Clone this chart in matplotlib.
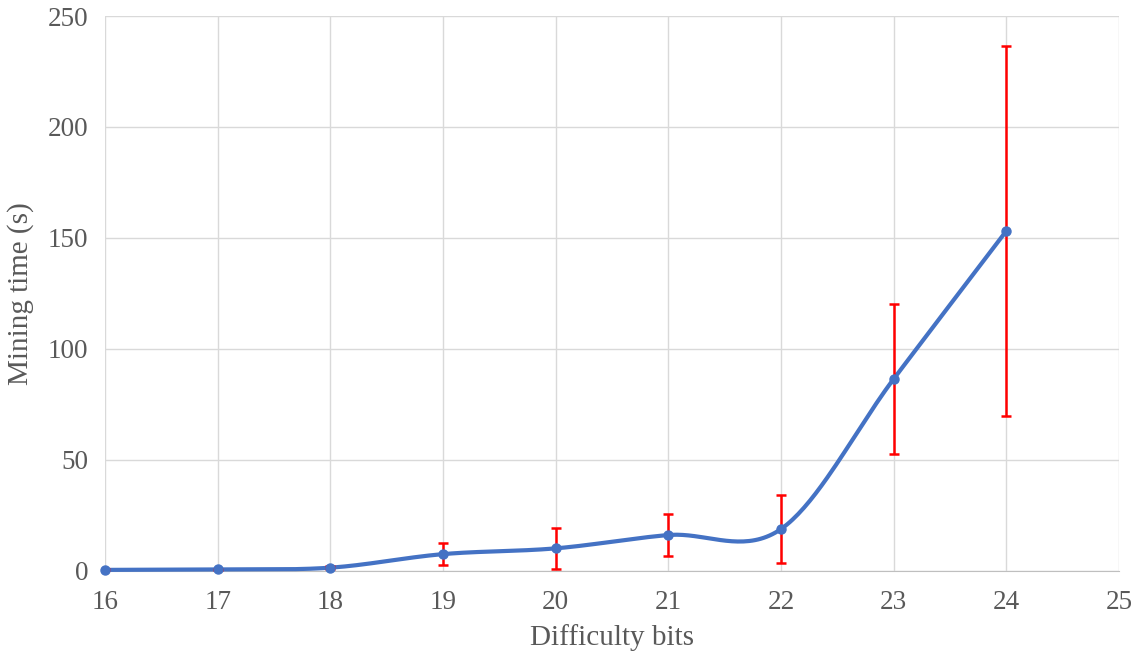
import numpy as np
import matplotlib.pyplot as plt

plt.rcParams['font.family'] = ['Liberation Serif', 'DejaVu Serif']

# Dados
bits = [16, 17, 18, 19, 20, 21, 22, 23, 24]
tempo_medio = [0.5, 0.7, 1.5, 7.6, 10.2, 16.2, 18.9, 86.5, 153.2]
desvio = [0.3, 0.4, 0.8, 5.0, 9.3, 9.5, 15.3, 33.8, 83.3]


def suavizar(x, y, passos=40):
    # Curva suavizada estilo Excel (Catmull-Rom / Bezier)
    x = np.asarray(x, float)
    y = np.asarray(y, float)
    xs, ys = [], []
    n = len(x)
    for i in range(n - 1):
        p0 = (x[max(i - 1, 0)], y[max(i - 1, 0)])
        p1 = (x[i], y[i])
        p2 = (x[i + 1], y[i + 1])
        p3 = (x[min(i + 2, n - 1)], y[min(i + 2, n - 1)])
        c1 = (p1[0] + (p2[0] - p0[0]) / 6, p1[1] + (p2[1] - p0[1]) / 6)
        c2 = (p2[0] - (p3[0] - p1[0]) / 6, p2[1] - (p3[1] - p1[1]) / 6)
        t = np.linspace(0, 1, passos)
        for k in range(2):
            pts = [p1[k], c1[k], c2[k], p2[k]]
            v = ((1 - t) ** 3 * pts[0] + 3 * (1 - t) ** 2 * t * pts[1]
                 + 3 * (1 - t) * t ** 2 * pts[2] + t ** 3 * pts[3])
            (xs if k == 0 else ys).append(v)
    return np.concatenate(xs), np.concatenate(ys)


fig = plt.figure(figsize=(11.41, 6.55), dpi=100)
ax = fig.add_axes([105 / 1141, 1 - 571 / 655, (1119 - 105) / 1141, (571 - 16) / 655])

xs, ys = suavizar(bits, tempo_medio)
ax.plot(xs, ys, color="#4472C4", linewidth=3, zorder=3, clip_on=False)
ax.errorbar(bits, tempo_medio, yerr=desvio, fmt="none", ecolor="#FF0000",
            elinewidth=1.8, capsize=3.5, capthick=1.8, zorder=4)
ax.plot(bits, tempo_medio, "o", color="#4472C4", markersize=6.5, zorder=5, clip_on=False)

ax.set_xlim(16, 25)
ax.set_ylim(0, 250)
ax.set_xticks(range(16, 26))
ax.set_yticks(range(0, 251, 50))
ax.grid(True, color="#D9D9D9", linewidth=1)
ax.set_axisbelow(True)
for lado in ["top", "right", "left"]:
    ax.spines[lado].set_visible(False)
ax.spines["bottom"].set_color("#BFBFBF")
ax.tick_params(length=0, labelsize=19.5, colors="#595959")
ax.tick_params(axis="x", pad=14)
ax.tick_params(axis="y", pad=12)

ax.set_xlabel("Difficulty bits", fontsize=21, color="#595959", labelpad=6)
ax.set_ylabel("Mining time (s)", fontsize=21, color="#595959", labelpad=10)

fig.savefig("out.png", dpi=100)
